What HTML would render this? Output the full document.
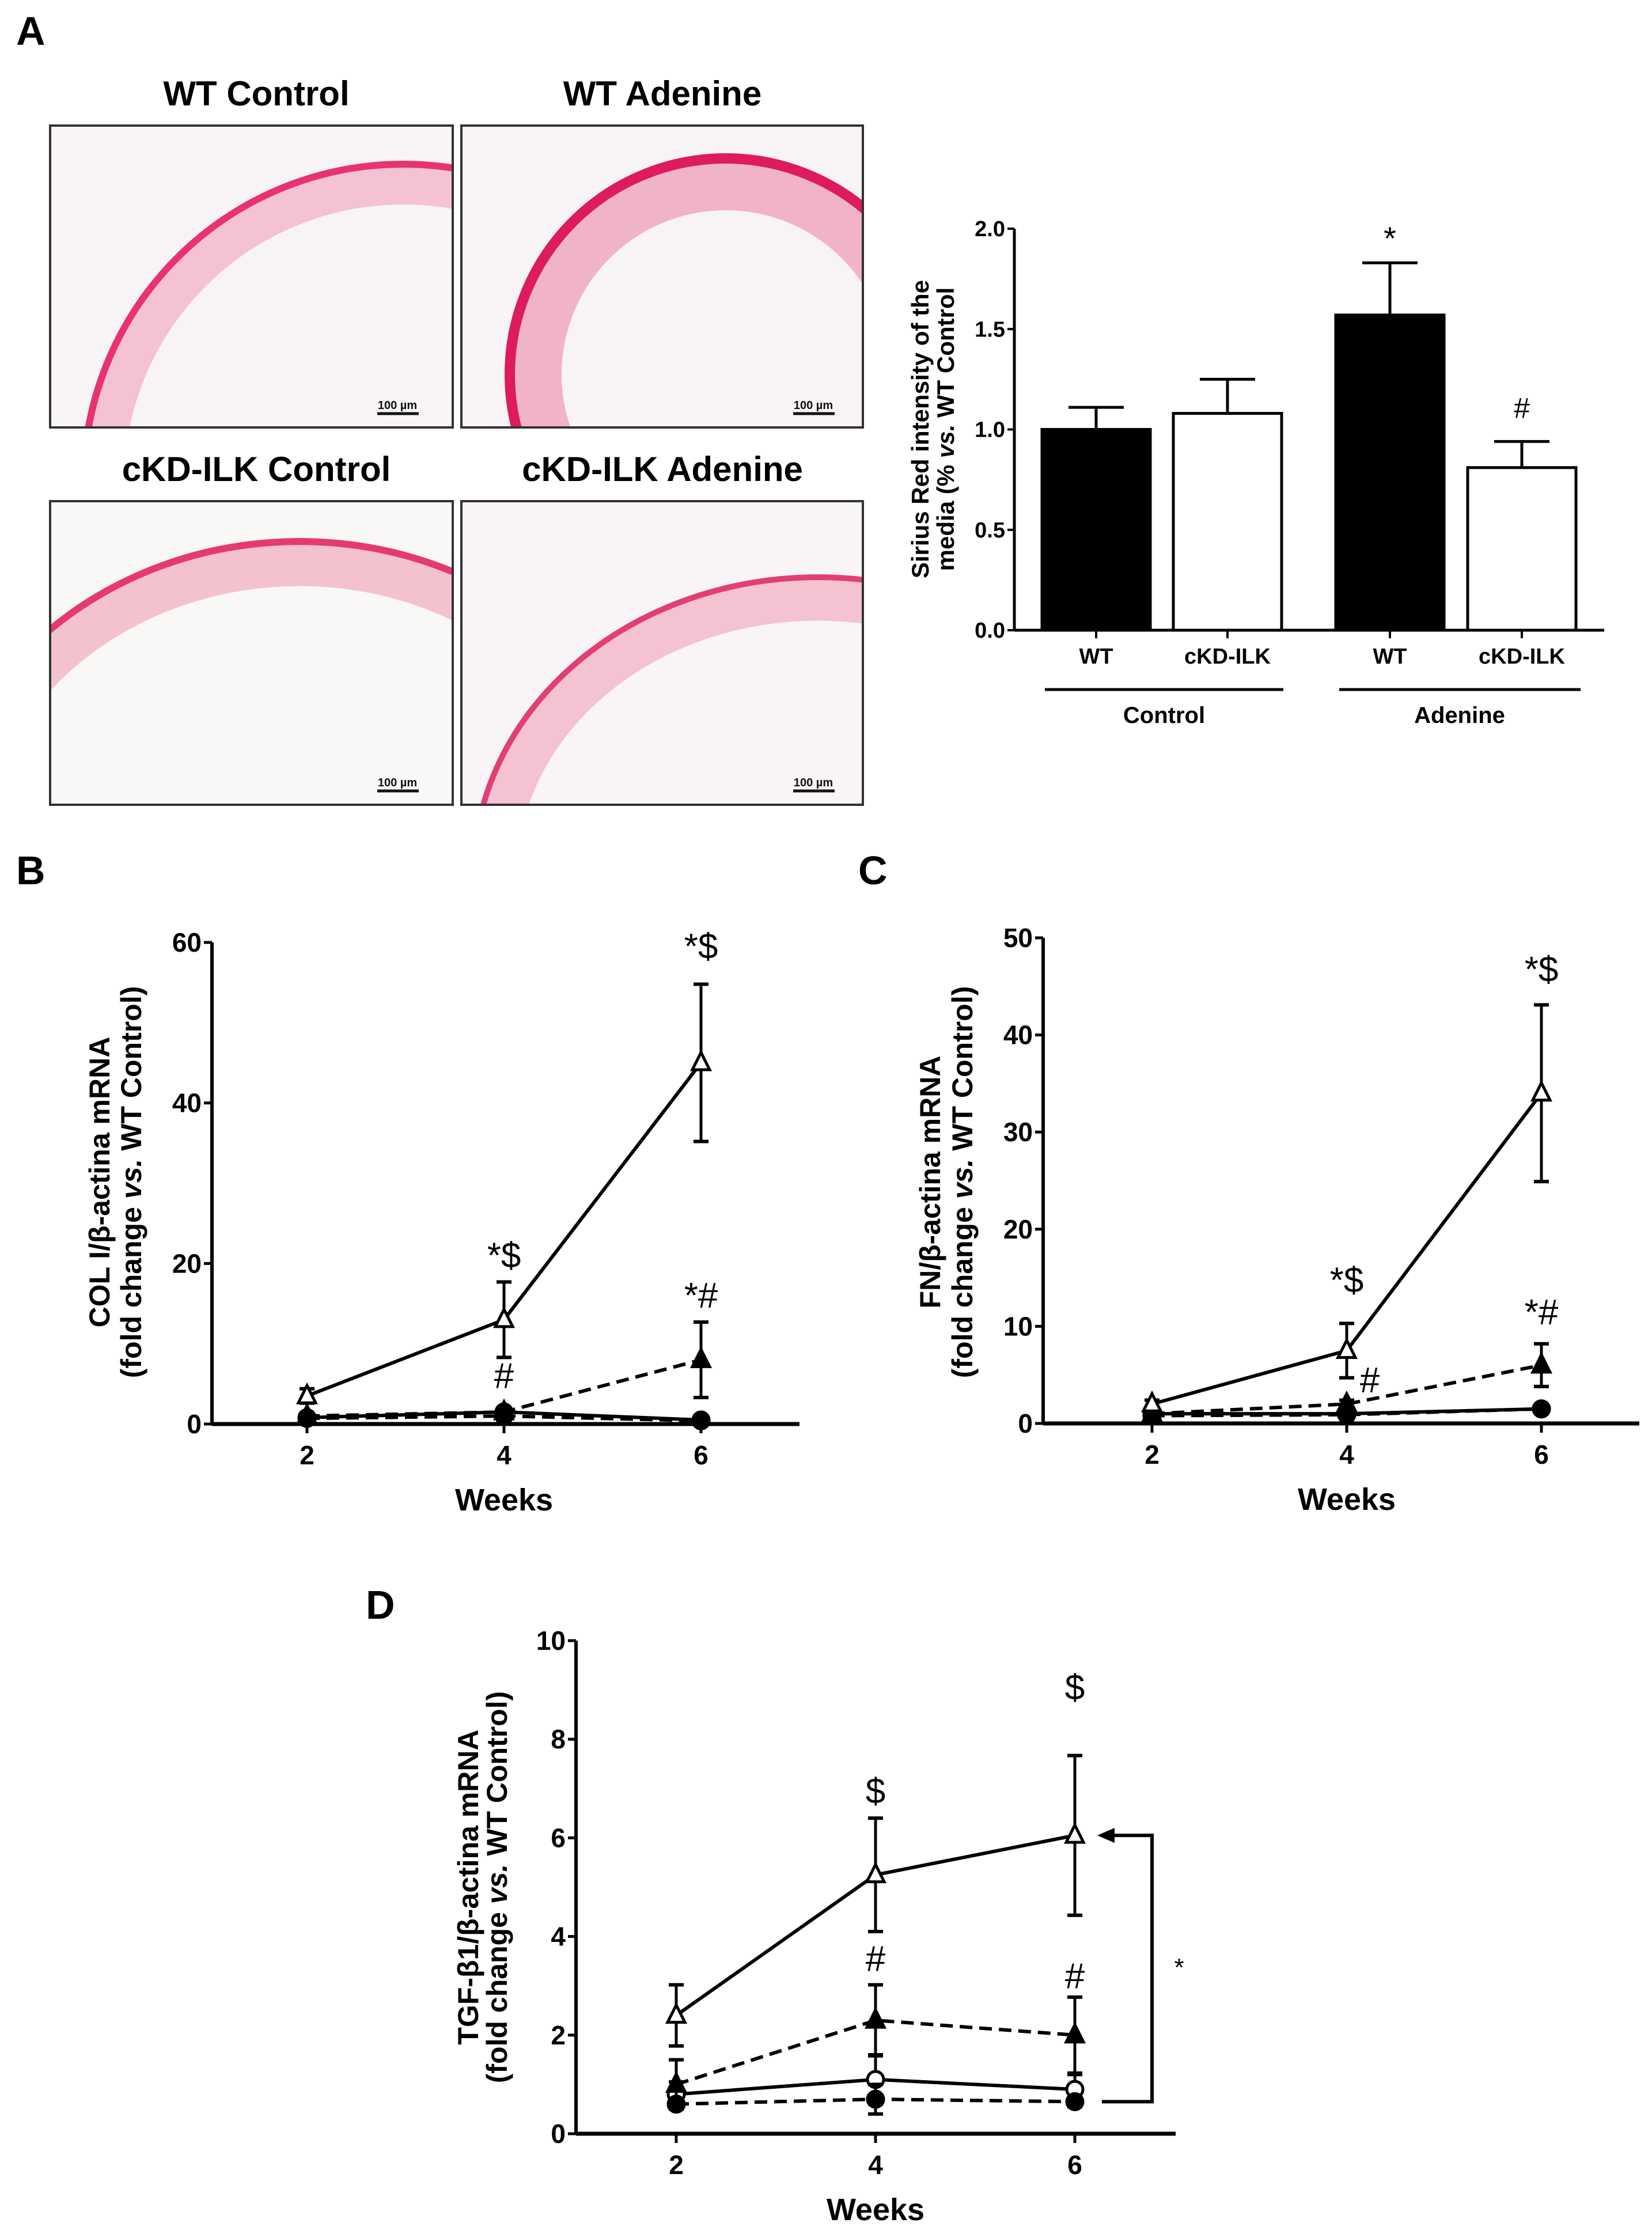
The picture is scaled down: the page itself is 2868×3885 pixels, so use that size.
<!DOCTYPE html>
<html><head><meta charset="utf-8">
<style>
html,body{margin:0;padding:0;background:#fff;}
svg{display:block;font-family:"Liberation Sans",Arial,sans-serif;}
.b{font-weight:bold;}
</style></head>
<body>
<svg id="fig" xmlns="http://www.w3.org/2000/svg" width="2868" height="3885" viewBox="0 0 2868 3885">
<defs>
<clipPath id="c1"><rect x="87" y="218" width="699" height="524"/></clipPath>
<clipPath id="c2"><rect x="801" y="218" width="697" height="524"/></clipPath>
<clipPath id="c3"><rect x="87" y="870" width="699" height="527"/></clipPath>
<clipPath id="c4"><rect x="801" y="870" width="697" height="527"/></clipPath>
</defs>
<text x="28" y="78" font-size="70" class="b">A</text>
<g>
<text x="445" y="183" font-size="60" class="b" text-anchor="middle">WT Control</text>
<text x="1150" y="183" font-size="60" class="b" text-anchor="middle">WT Adenine</text>
<text x="445" y="835" font-size="60" class="b" text-anchor="middle">cKD-ILK Control</text>
<text x="1150" y="835" font-size="60" class="b" text-anchor="middle">cKD-ILK Adenine</text>
<g clip-path="url(#c1)">
<rect x="87" y="218" width="699" height="524" fill="#f8f4f6"/>
<ellipse cx="700" cy="840" rx="520" ry="520" fill="none" stroke="#f4c2d0" stroke-width="70"/>
<ellipse cx="700" cy="840" rx="555" ry="555" fill="none" stroke="#e8336e" stroke-width="12"/>
</g>
<g clip-path="url(#c2)">
<rect x="801" y="218" width="697" height="524" fill="#f8f3f6"/>
<ellipse cx="1260" cy="650" rx="330" ry="330" fill="none" stroke="#f0b4c6" stroke-width="90"/>
<ellipse cx="1260" cy="650" rx="375" ry="375" fill="none" stroke="#de1b5c" stroke-width="18"/>
</g>
<g clip-path="url(#c3)">
<rect x="87" y="870" width="699" height="527" fill="#faf8f7"/>
<ellipse cx="520" cy="1520" rx="600" ry="540" fill="none" stroke="#f4c2cf" stroke-width="75"/>
<ellipse cx="520" cy="1520" rx="640" ry="580" fill="none" stroke="#e63a6e" stroke-width="12"/>
</g>
<g clip-path="url(#c4)">
<rect x="801" y="870" width="697" height="527" fill="#f8f4f7"/>
<ellipse cx="1420" cy="1520" rx="560" ry="480" fill="none" stroke="#f4c2d0" stroke-width="75"/>
<ellipse cx="1420" cy="1520" rx="598" ry="518" fill="none" stroke="#e23f72" stroke-width="10"/>
</g>
<g fill="none" stroke="#333" stroke-width="4">
<rect x="87" y="218" width="699" height="524"/><rect x="801" y="218" width="697" height="524"/>
<rect x="87" y="870" width="699" height="527"/><rect x="801" y="870" width="697" height="527"/>
</g>
<g font-size="20" class="b" text-anchor="middle" fill="#111">
<text x="690" y="710">100 µm</text><line x1="655" y1="718" x2="727" y2="718" stroke="#111" stroke-width="5"/>
<text x="1412" y="710">100 µm</text><line x1="1377" y1="718" x2="1449" y2="718" stroke="#111" stroke-width="5"/>
<text x="690" y="1365">100 µm</text><line x1="655" y1="1373" x2="727" y2="1373" stroke="#111" stroke-width="5"/>
<text x="1412" y="1365">100 µm</text><line x1="1377" y1="1373" x2="1449" y2="1373" stroke="#111" stroke-width="5"/>
</g>
</g>
<g id="barchart"></g>
<text x="28" y="1535" font-size="70" class="b">B</text>
<text x="1490" y="1535" font-size="70" class="b">C</text>
<text x="635" y="2810" font-size="70" class="b">D</text>
<g id="chartB"></g>
<g id="chartC"></g>
<g id="chartD"></g>
</svg>
<script>
// ---- Panel A bar chart data ----
const barCats = ["WT","cKD-ILK","WT","cKD-ILK"];
const barVals = [1.0,1.08,1.57,0.81];
const barErrs = [0.11,0.17,0.26,0.13];
const barFills = ["#000","#fff","#000","#fff"];
const barTicks = [0,0.5,1.0,1.5,2.0];
const barTickLabels = ["0.0","0.5","1.0","1.5","2.0"];
const barAnn = ["","","*","#"];

// ---- Panel B data ----
const weeks = [2,4,6];
const bOpenTri = [3.5,13,45];
const bOpenTriErr = [0.9,4.7,9.8];
const bFillTri = [1.0,1.5,8];
const bFillTriErr = [0.3,0.4,4.7];
const bOpenCirc = [0.8,1.5,0.5];
const bOpenCircErr = [0.2,0.3,0.2];
const bFillCirc = [0.7,1.0,0.4];
const bFillCircErr = [0.2,0.2,0.1];
const bTicks = [0,20,40,60];

// ---- Panel C data ----
const cOpenTri = [2,7.5,34];
const cOpenTriErr = [0.4,2.8,9.1];
const cFillTri = [1,2,6];
const cFillTriErr = [0.3,0.4,2.2];
const cOpenCirc = [1,1,1.5];
const cOpenCircErr = [0.2,0.2,0.3];
const cFillCirc = [0.8,0.9,1.5];
const cFillCircErr = [0.2,0.2,0.3];
const cTicks = [0,10,20,30,40,50];

// ---- Panel D data ----
const dOpenTri = [2.4,5.25,6.05];
const dOpenTriErr = [0.62,1.15,1.62];
const dFillTri = [1.0,2.3,2.0];
const dFillTriErr = [0.5,0.72,0.77];
const dOpenCirc = [0.8,1.1,0.9];
const dOpenCircErr = [0.25,0.5,0.3];
const dFillCirc = [0.6,0.7,0.65];
const dFillCircErr = [0.1,0.3,0.1];
const dTicks = [0,2,4,6,8,10];

const NS="http://www.w3.org/2000/svg";
function mk(parent,tag,attrs,name){
  const el=document.createElementNS(NS,tag);
  for(const k in attrs) el.setAttribute(k,attrs[k]);
  
  
  parent.appendChild(el);
  return el;
}
function txt(parent,x,y,s,size,name,extra){
  const t=mk(parent,'text',Object.assign({x:x,y:y,'font-size':size,'text-anchor':'middle'},extra||{}),name);
  t.textContent=s;return t;
}

// ---- Bar chart ----
(function(){
  const g=document.getElementById('barchart');
  const x0=1761,xEnd=2785,y0=1094,y2=397;
  const Y=v=>y0-(v/2.0)*(y0-y2);
  const centers=[1903,2131,2413,2642], bw=188;
  mk(g,'line',{x1:x0,y1:y0,x2:x0,y2:y2,stroke:'#000','stroke-width':5},'y-axis');
  mk(g,'line',{x1:x0,y1:y0,x2:xEnd,y2:y0,stroke:'#000','stroke-width':5},'x-axis');
  barTicks.forEach((v,i)=>{
    mk(g,'line',{x1:x0-12,y1:Y(v),x2:x0,y2:Y(v),stroke:'#000','stroke-width':4},'y-tick');
    txt(g,x0-16,Y(v)+13,barTickLabels[i],38,'y-tick-label',{'text-anchor':'end','font-weight':'bold'});
  });
  barVals.forEach((v,i)=>{
    const cx=centers[i];
    mk(g,'line',{x1:cx,y1:Y(v),x2:cx,y2:Y(v+barErrs[i]),stroke:'#000','stroke-width':5},'error-bar');
    mk(g,'line',{x1:cx-48,y1:Y(v+barErrs[i]),x2:cx+48,y2:Y(v+barErrs[i]),stroke:'#000','stroke-width':5},'error-cap');
    mk(g,'rect',{x:cx-bw/2,y:Y(v),width:bw,height:y0-Y(v),fill:barFills[i],stroke:'#000','stroke-width':5},'bar-'+i);
    mk(g,'line',{x1:cx,y1:y0,x2:cx,y2:y0+14,stroke:'#000','stroke-width':4},'x-tick');
    txt(g,cx,1152,barCats[i],38,'x-tick-label',{'font-weight':'bold'});
    if(barAnn[i]) txt(g,cx,Y(v+barErrs[i])-(barAnn[i]=='*'?23:41),barAnn[i],barAnn[i]=='*'?56:50,'significance-mark');
  });
  mk(g,'line',{x1:1814,y1:1197,x2:2228,y2:1197,stroke:'#000','stroke-width':5},'group-line-control');
  mk(g,'line',{x1:2325,y1:1197,x2:2744,y2:1197,stroke:'#000','stroke-width':5},'group-line-adenine');
  txt(g,2021,1255,'Control',40,'group-label-control',{'font-weight':'bold'});
  txt(g,2534,1255,'Adenine',40,'group-label-adenine',{'font-weight':'bold'});
  txt(g,0,0,'Sirius Red intensity of the',42,'y-axis-title',{'font-weight':'bold',transform:'translate(1612,745) rotate(-90)'});
  const t2=mk(g,'text',{'font-size':42,'font-weight':'bold','text-anchor':'middle',transform:'translate(1656,745) rotate(-90)'},'y-axis-title-line2');
  t2.innerHTML='media (% <tspan font-style="italic">vs.</tspan> WT Control';
})();

// ---- Line charts ----
function lineChart(id,cfg){
  const g=document.getElementById(id);
  const X=w=>cfg.x2+(w-2)/2*(cfg.x4-cfg.x2);
  const Y=v=>cfg.y0-(v/cfg.max)*(cfg.y0-cfg.ymax);
  mk(g,'line',{x1:cfg.ax,y1:cfg.y0,x2:cfg.ax,y2:cfg.ymax,stroke:'#000','stroke-width':6},'y-axis');
  mk(g,'line',{x1:cfg.ax,y1:cfg.y0,x2:cfg.xEnd,y2:cfg.y0,stroke:'#000','stroke-width':7},'x-axis');
  cfg.ticks.forEach(v=>{
    mk(g,'line',{x1:cfg.ax-14,y1:Y(v),x2:cfg.ax,y2:Y(v),stroke:'#000','stroke-width':5},'y-tick');
    txt(g,cfg.ax-18,Y(v)+16,String(v),46,'y-tick-label',{'text-anchor':'end','font-weight':'bold'});
  });
  weeks.forEach(w=>{
    mk(g,'line',{x1:X(w),y1:cfg.y0,x2:X(w),y2:cfg.y0+16,stroke:'#000','stroke-width':5},'x-tick');
    txt(g,X(w),cfg.y0+70,String(w),46,'x-tick-label',{'font-weight':'bold'});
  });
  txt(g,X(4),cfg.y0+150,'Weeks',54,'x-axis-title',{'font-weight':'bold'});
  const t1=txt(g,0,0,cfg.title,50,'y-axis-title',{'font-weight':'bold',transform:'translate('+cfg.t1x+','+cfg.tcy+') rotate(-90)'});
  t1.innerHTML=cfg.title;
  const t2=mk(g,'text',{'font-size':50,'font-weight':'bold','text-anchor':'middle',transform:'translate('+cfg.t2x+','+cfg.tcy+') rotate(-90)'},'y-axis-title-line2');
  t2.innerHTML='(fold change <tspan font-style="italic">vs.</tspan> WT Control)';
  cfg.series.forEach(s=>{
    const pts=weeks.map((w,i)=>X(w)+','+Y(s.v[i])).join(' ');
    const attrs={points:pts,fill:'none',stroke:'#000','stroke-width':6};
    if(s.dash) attrs['stroke-dasharray']='22,12';
    mk(g,'polyline',attrs,s.name+'-line');
    weeks.forEach((w,i)=>{
      const x=X(w),yh=Y(s.v[i]+s.e[i]),yl=Y(Math.max(0,s.v[i]-s.e[i]));
      mk(g,'line',{x1:x,y1:yh,x2:x,y2:yl,stroke:'#000','stroke-width':5},s.name+'-error-bar');
      mk(g,'line',{x1:x-13,y1:yh,x2:x+13,y2:yh,stroke:'#000','stroke-width':6},s.name+'-error-cap');
      mk(g,'line',{x1:x-13,y1:yl,x2:x+13,y2:yl,stroke:'#000','stroke-width':6},s.name+'-error-cap');
      const y=Y(s.v[i]);
      if(s.m==='tri'){
        mk(g,'polygon',{points:(x)+','+(y-18)+' '+(x-15)+','+(y+12)+' '+(x+15)+','+(y+12),fill:s.fill,stroke:'#000','stroke-width':5},s.name+'-point');
      } else {
        mk(g,'circle',{cx:x,cy:y,r:14,fill:s.fill,stroke:'#000','stroke-width':5},s.name+'-point');
      }
    });
  });
  cfg.ann.forEach(a=>{
    txt(g,X(a[0])+(a[3]||0),Y(a[1]),a[2],62,'significance-mark');
  });
  return {X,Y,g};
}
lineChart('chartB',{ax:368,x2:533,x4:875,xEnd:1388,y0:2472,ymax:1636,max:60,ticks:bTicks,
  title:'COL I/β-actina mRNA',t1x:190,t2x:245,tcy:2052,
  series:[{name:'wt-control',v:bOpenCirc,e:bOpenCircErr,m:'circ',fill:'#fff',dash:false},
          {name:'ckd-control',v:bFillCirc,e:bFillCircErr,m:'circ',fill:'#000',dash:true},
          {name:'ckd-adenine',v:bFillTri,e:bFillTriErr,m:'tri',fill:'#000',dash:true},
          {name:'wt-adenine',v:bOpenTri,e:bOpenTriErr,m:'tri',fill:'#fff',dash:false}],
  ann:[[4,19.5,'*$'],[4,4.5,'#'],[6,58,'*$'],[6,14.5,'*#']]});
lineChart('chartC',{ax:1811,x2:2000,x4:2338,xEnd:2846,y0:2471,ymax:1628,max:50,ticks:cTicks,
  title:'FN/β-actina mRNA',t1x:1632,t2x:1688,tcy:2052,
  series:[{name:'wt-control',v:cOpenCirc,e:cOpenCircErr,m:'circ',fill:'#fff',dash:false},
          {name:'ckd-control',v:cFillCirc,e:cFillCircErr,m:'circ',fill:'#000',dash:true},
          {name:'ckd-adenine',v:cFillTri,e:cFillTriErr,m:'tri',fill:'#000',dash:true},
          {name:'wt-adenine',v:cOpenTri,e:cOpenTriErr,m:'tri',fill:'#fff',dash:false}],
  ann:[[4,13.5,'*$'],[4,3.2,'#',40],[6,45.5,'*$'],[6,10.2,'*#']]});
const D=lineChart('chartD',{ax:1000,x2:1174,x4:1520,xEnd:2041,y0:3704,ymax:2848,max:10,ticks:dTicks,
  title:'TGF-β1/β-actina mRNA',t1x:830,t2x:880,tcy:3276,
  series:[{name:'wt-control',v:dOpenCirc,e:dOpenCircErr,m:'circ',fill:'#fff',dash:false},
          {name:'ckd-control',v:dFillCirc,e:dFillCircErr,m:'circ',fill:'#000',dash:true},
          {name:'ckd-adenine',v:dFillTri,e:dFillTriErr,m:'tri',fill:'#000',dash:true},
          {name:'wt-adenine',v:dOpenTri,e:dOpenTriErr,m:'tri',fill:'#fff',dash:false}],
  ann:[[4,6.7,'$'],[6,8.8,'$'],[4,3.3,'#'],[6,2.95,'#']]});
(function(){
  const g=D.g,Y=D.Y;
  const yTop=Y(dOpenTri[2]),yBot=Y(dFillCirc[2]);
  mk(g,'polyline',{points:'1925,'+yTop+' 2000,'+yTop+' 2000,'+yBot+' 1913,'+yBot,fill:'none',stroke:'#000','stroke-width':6},'comparison-bracket');
  mk(g,'polygon',{points:'1905,'+yTop+' 1935,'+(yTop-13)+' 1935,'+(yTop+13),fill:'#000'},'bracket-arrowhead');
  txt(g,2047,Y(3.2),'*',44,'bracket-significance');
})();
</script>
</body></html>
